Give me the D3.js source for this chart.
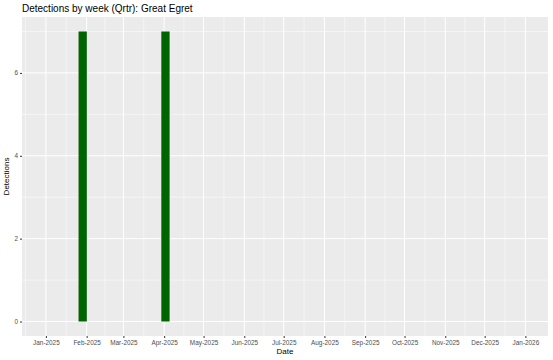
<!DOCTYPE html>
<html><head><meta charset="utf-8">
<script src="https://cdn.jsdelivr.net/npm/d3@7"></script>
<style>body{margin:0;background:#fff}svg{display:block}text{font-family:"Liberation Sans",Arial,sans-serif}</style>
</head><body>
<svg id="c" width="553" height="360"></svg>
<script>
const weeks = ["2025-01-29", "2025-04-02"];
const detections = [7, 7];
const monthTicks = ["2025-01-01","2025-02-01","2025-03-01","2025-04-01","2025-05-01","2025-06-01","2025-07-01","2025-08-01","2025-09-01","2025-10-01","2025-11-01","2025-12-01","2026-01-01"];
const yTicks = [0, 2, 4, 6];
const xLimits = ["2025-01-01", "2025-12-31"];
const title = "Detections by week (Qrtr): Great Egret";

const parse = d3.utcParse("%Y-%m-%d");
const W = 553, H = 360;
const m = {l: 22, r: 5, t: 17, b: 24};
const svg = d3.select("#c");
const x0 = parse(xLimits[0]), x1 = parse(xLimits[1]);
const span = x1 - x0;
const x = d3.scaleUtc().domain([new Date(+x0 - span*0.05), new Date(+x1 + span*0.05)]).range([m.l, W - m.r]);
const yMax = d3.max(detections);
const y = d3.scaleLinear().domain([-yMax*0.05, yMax*1.05]).range([H - m.b, m.t]);

svg.append("rect").attr("x", m.l).attr("y", m.t).attr("width", W - m.r - m.l).attr("height", H - m.b - m.t).attr("fill", "#EBEBEB");

const g = svg.append("g");
// minor grid
const mt = monthTicks.map(parse);
const minorX = [];
for (let i = 0; i < mt.length - 1; i++) minorX.push(new Date((+mt[i] + +mt[i+1]) / 2));
minorX.push(new Date(+mt[0] - (mt[1]-mt[0])/2));
g.selectAll(".mx").data(minorX.filter(d => x(d) > m.l && x(d) < W - m.r)).enter().append("line")
  .attr("x1", d => x(d)).attr("x2", d => x(d)).attr("y1", m.t).attr("y2", H - m.b)
  .attr("stroke", "#fff").attr("stroke-width", 0.5);
const minorY = [1, 3, 5, 7];
g.selectAll(".my").data(minorY).enter().append("line")
  .attr("x1", m.l).attr("x2", W - m.r).attr("y1", d => y(d)).attr("y2", d => y(d))
  .attr("stroke", "#fff").attr("stroke-width", 0.5);
// major grid
g.selectAll(".Mx").data(mt).enter().append("line")
  .attr("x1", d => x(d)).attr("x2", d => x(d)).attr("y1", m.t).attr("y2", H - m.b)
  .attr("stroke", "#fff").attr("stroke-width", 1);
g.selectAll(".My").data(yTicks).enter().append("line")
  .attr("x1", m.l).attr("x2", W - m.r).attr("y1", d => y(d)).attr("y2", d => y(d))
  .attr("stroke", "#fff").attr("stroke-width", 1);

// bars
const day = 86400000;
const bw = 7 * 0.9 * day;
svg.selectAll(".bar").data(weeks.map((w, i) => ({d: parse(w), v: detections[i]}))).enter().append("rect")
  .attr("x", d => x(new Date(+d.d - bw/2)))
  .attr("width", d => x(new Date(+d.d + bw/2)) - x(new Date(+d.d - bw/2)))
  .attr("y", d => y(d.v)).attr("height", d => y(0) - y(d.v))
  .attr("fill", "#006400");

// axes
const fmt = d3.utcFormat("%b-%Y");
const xa = svg.append("g").attr("transform", `translate(0,${H - m.b})`)
  .call(d3.axisBottom(x).tickValues(mt).tickFormat(fmt).tickSize(2).tickPadding(2));
xa.select(".domain").remove();
xa.selectAll("line").attr("stroke", "#333");
xa.selectAll("text").attr("fill", "#4d4d4d").style("font-size", "6.4px");
const ya = svg.append("g").attr("transform", `translate(${m.l},0)`)
  .call(d3.axisLeft(y).tickValues(yTicks).tickFormat(d3.format("d")).tickSize(2).tickPadding(2));
ya.select(".domain").remove();
ya.selectAll("line").attr("stroke", "#333");
ya.selectAll("text").attr("fill", "#4d4d4d").style("font-size", "6.4px");

svg.append("text").attr("x", (m.l + W - m.r)/2).attr("y", H - 6).attr("text-anchor", "middle")
  .style("font-size", "8px").attr("fill", "#000").text("Date");
svg.append("text").attr("transform", `translate(9,${(m.t + H - m.b)/2}) rotate(-90)`).attr("text-anchor", "middle")
  .style("font-size", "8px").attr("fill", "#000").text("Detections");
svg.append("text").attr("x", m.l).attr("y", 12).style("font-size", "10px").attr("fill", "#000").text(title);
</script>
</body></html>
